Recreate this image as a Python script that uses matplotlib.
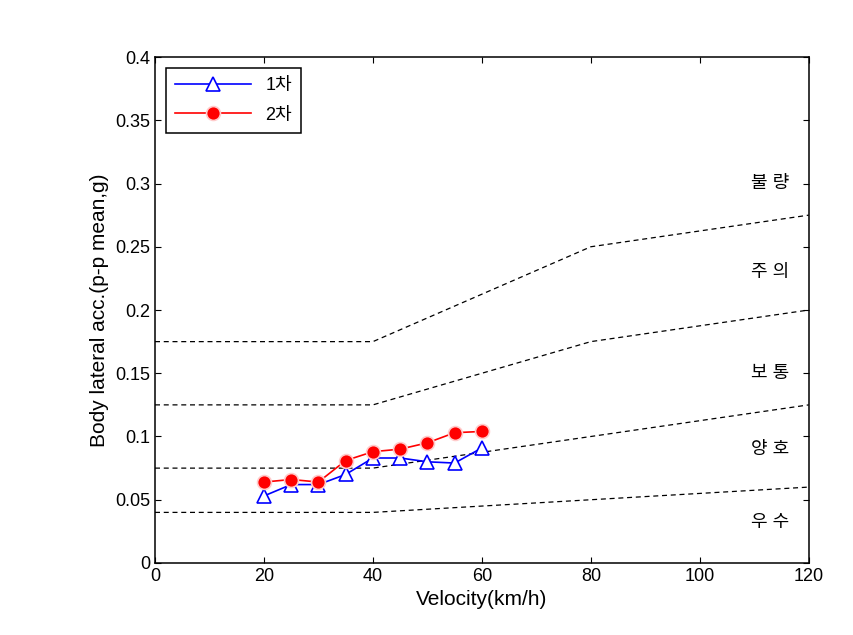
import matplotlib.pyplot as plt
import numpy as np

plt.rcParams['font.family'] = ['Liberation Sans', 'Noto Sans CJK KR']

speed = [20, 25, 30, 35, 40, 45, 50, 55, 60]
acc_1st = [0.053, 0.062, 0.062, 0.070, 0.083, 0.083, 0.080, 0.079, 0.091]
acc_2nd = [0.064, 0.066, 0.064, 0.081, 0.088, 0.090, 0.095, 0.103, 0.104]

limit_x = [0, 40, 80, 120]
limits = [
    [0.04, 0.04, 0.05, 0.06],
    [0.075, 0.075, 0.10, 0.125],
    [0.125, 0.125, 0.175, 0.20],
    [0.175, 0.175, 0.25, 0.275],
]
grade_names = ['불 량', '주 의', '보 통', '양 호', '우 수']
grade_y = [0.30, 0.23, 0.15, 0.09, 0.032]

fig = plt.figure(figsize=(8.54, 6.35), dpi=100)
ax = fig.add_axes([0.1815, 0.1134, 0.7655, 0.7968])

for lim in limits:
    ax.plot(limit_x, lim, 'k--', lw=0.9, dashes=(4, 3))

ax.plot(speed, acc_1st, '-', color='blue', lw=1.2, marker='^', ms=10,
        mfc='white', mec='blue', mew=1.2, label='1차')
ax.plot(speed, acc_2nd, '-', color='red', lw=1.2, marker='o', ms=10,
        mfc='red', mec='#ffcccc', mew=1.2, label='2차')

for name, yy in zip(grade_names, grade_y):
    ax.text(113, yy, name, ha='center', va='center', fontsize=13)

ax.set_xlim(0, 120)
ax.set_ylim(0, 0.4)
ax.set_xticks(np.arange(0, 121, 20))
ax.set_yticks(np.arange(0, 0.41, 0.05))
ax.set_yticklabels(['0', '0.05', '0.1', '0.15', '0.2', '0.25', '0.3', '0.35', '0.4'])
ax.tick_params(direction='in', top=True, right=True, labelsize=13, length=4)
for s in ax.spines.values():
    s.set_linewidth(1.1)
ax.set_xlabel('Velocity(km/h)', fontsize=15)
ax.set_ylabel('Body lateral acc.(p-p mean,g)', fontsize=15)

leg = ax.legend(loc='upper left', fontsize=13, fancybox=False, edgecolor='black',
                framealpha=1, borderaxespad=0.6, handlelength=4.2,
                labelspacing=0.7, borderpad=0.5)
leg.get_frame().set_linewidth(1.1)

fig.savefig('out.png')
